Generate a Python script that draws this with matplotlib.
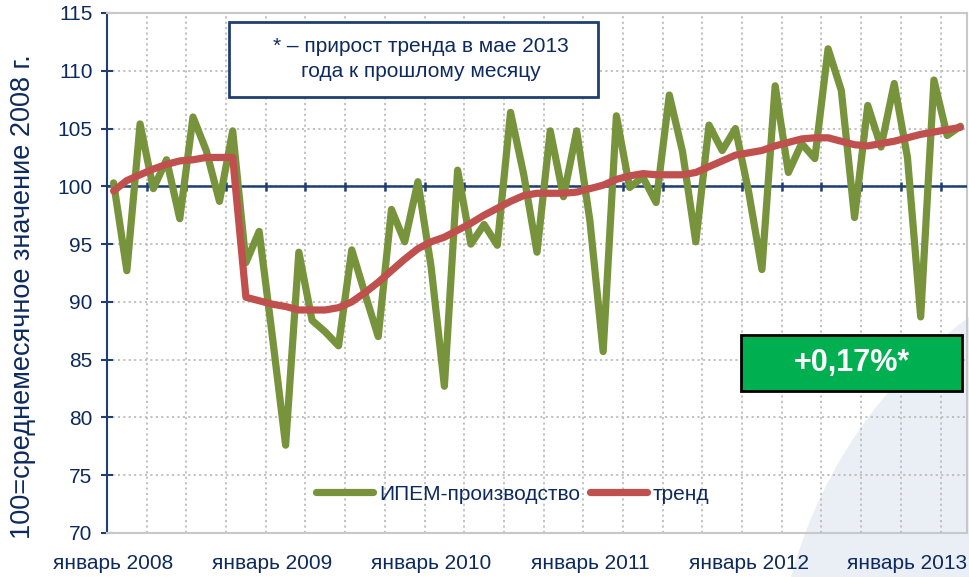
import numpy as np
import matplotlib.pyplot as plt
from matplotlib.patches import Ellipse, Rectangle

plt.rcParams['font.family'] = ['Liberation Sans', 'DejaVu Sans']

# monthly values, January 2008 - May 2013
ipem = [100.3, 92.7, 105.4, 99.8, 102.3, 97.2, 106.0, 103.1, 98.7, 104.8, 93.4, 96.1,
        87.0, 77.6, 94.3, 88.4, 87.4, 86.2, 94.5, 90.7, 87.0, 98.0, 95.2, 100.4,
        93.0, 82.7, 101.4, 95.0, 96.7, 94.9, 106.4, 101.0, 94.3, 104.8, 99.1, 104.8,
        97.0, 85.7, 106.1, 99.9, 100.8, 98.6, 107.9, 103.0, 95.2, 105.3, 103.1, 105.0,
        99.5, 92.8, 108.7, 101.2, 103.7, 102.4, 111.9, 108.3, 97.3, 107.0, 103.4, 108.9,
        102.5, 88.7, 109.2, 104.4, 105.2]
trend = [99.6, 100.5, 101.0, 101.5, 101.9, 102.2, 102.3, 102.5, 102.5, 102.5, 90.4, 90.1,
         89.8, 89.6, 89.3, 89.3, 89.3, 89.5, 90.0, 90.8, 91.7, 92.7, 93.7, 94.6,
         95.2, 95.6, 96.2, 96.8, 97.5, 98.1, 98.7, 99.2, 99.4, 99.4, 99.4, 99.5,
         99.8, 100.1, 100.6, 100.9, 101.1, 101.0, 101.0, 101.0, 101.2, 101.7, 102.2, 102.7,
         102.9, 103.1, 103.5, 103.8, 104.1, 104.2, 104.2, 103.9, 103.6, 103.5, 103.7, 103.9,
         104.2, 104.5, 104.7, 104.9, 105.1]
year_labels = ['январь 2008', 'январь 2009', 'январь 2010',
               'январь 2011', 'январь 2012', 'январь 2013']

navy = '#1F3F73'
text_col = '#0D2A5E'
months = np.arange(len(ipem))

fig = plt.figure(figsize=(9.7, 5.77), dpi=100)
# decorative shading in the lower right corner
fig.patches.append(Ellipse((1250 / 970, -123 / 577), 2 * 475 / 970, 2 * 475 / 577,
                           transform=fig.transFigure, facecolor='#EAEEF5',
                           edgecolor='none', zorder=-1))
ax = fig.add_axes([107 / 970, 44 / 577, 860 / 970, 520 / 577])
ax.set_facecolor('none')
ax.set_zorder(1)

ax.plot(months, ipem, color='#77933C', lw=5.2, solid_joinstyle='round',
        solid_capstyle='round', label='ИПЕМ-производство', zorder=4)
ax.plot(months, trend, color='#C0504D', lw=5.2, solid_joinstyle='round',
        solid_capstyle='round', label='тренд', zorder=5)

ax.set_xlim(-0.5, len(ipem) - 0.5)
ax.set_ylim(70, 115)
ax.set_yticks(np.arange(70, 116, 5))

grid_x = np.arange(2.5, len(ipem) - 0.5, 3)
ax.set_xticks(np.arange(0, len(ipem), 12))
ax.set_xticklabels(year_labels)
ax.set_xticks(grid_x, minor=True)
ax.tick_params(axis='x', which='both', length=0, labelsize=15, colors=text_col, pad=15)
ax.tick_params(axis='y', direction='inout', length=9, width=1.5, color=navy,
               labelsize=15, labelcolor=text_col, pad=6)
ax.grid(axis='x', which='minor', color='#BDBDBD', ls=(0, (1.2, 1.8)), lw=1.3)
ax.grid(axis='y', which='major', color='#BDBDBD', ls=(0, (1.2, 1.8)), lw=1.3)

for s in ['top', 'right', 'bottom']:
    ax.spines[s].set_color('#C8C8C8')
    ax.spines[s].set_linewidth(1.5)
ax.spines['left'].set_color(navy)
ax.spines['left'].set_linewidth(1.5)

# horizontal axis line at 100 with crossing tick marks
ax.axhline(100, color=navy, lw=1.8, zorder=3)
ax.vlines(grid_x, 99.6, 100.4, color=navy, lw=1.8, zorder=3)

ax.set_ylabel('100=среднемесячное значение 2008 г.', fontsize=19.5, color=text_col)
ax.yaxis.set_label_coords(-0.083, 0.454)

# note box
ax.add_patch(Rectangle((0.142, 0.838), 0.429, 0.145, transform=ax.transAxes,
                       facecolor='white', edgecolor=navy, lw=2, zorder=6))
ax.text(0.365, 0.911, '* – прирост тренда в мае 2013\nгода к прошлому месяцу',
        transform=ax.transAxes, ha='center', va='center', fontsize=15,
        color=text_col, linespacing=1.4, zorder=7)

# green value box
ax.add_patch(Rectangle((0.737, 0.273), 0.257, 0.108, transform=ax.transAxes,
                       facecolor='#00B050', edgecolor='black', lw=2, zorder=6))
ax.text(0.866, 0.327, '+0,17%*', transform=ax.transAxes, ha='center', va='center',
        fontsize=22, fontweight='bold', color='white', zorder=7)

leg = ax.legend(loc='center', bbox_to_anchor=(0.472, 0.075), ncol=2, frameon=False,
                fontsize=15, handlelength=2.7, handletextpad=0.3, columnspacing=0.5)
for t in leg.get_texts():
    t.set_color(text_col)

fig.savefig('out.png', dpi=100)
